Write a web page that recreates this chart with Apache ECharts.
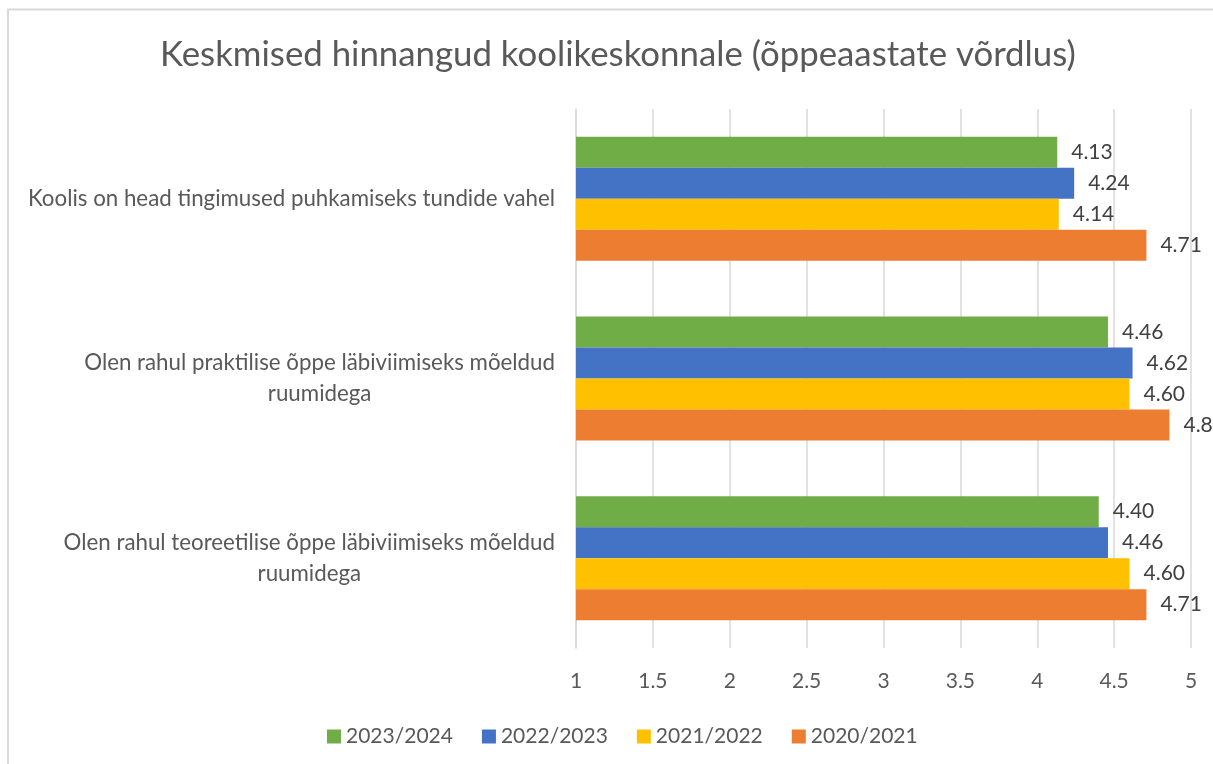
<!DOCTYPE html>
<html>
<head>
<meta charset="utf-8">
<script src="https://cdn.jsdelivr.net/npm/echarts@6/dist/echarts.min.js"></script>
<style>
  html, body { margin: 0; padding: 0; background: #fff; }
  #chart { width: 1213px; height: 764px; }
</style>
</head>
<body>
<div id="chart"></div>
<script>
// categories, top to bottom
const categories = [
  'Koolis on head tingimused puhkamiseks tundide vahel',
  'Olen rahul praktilise õppe läbiviimiseks mõeldud\nruumidega',
  'Olen rahul teoreetilise õppe läbiviimiseks mõeldud\nruumidega'
]
const seriesNames = ['2023/2024', '2022/2023', '2021/2022', '2020/2021']
const values2023 = [4.13, 4.46, 4.40]
const values2022 = [4.24, 4.62, 4.46]
const values2021 = [4.14, 4.60, 4.60]
const values2020 = [4.71, 4.86, 4.71]
const xTicks = [1, 5, 0.5] // min, max, step

const colors = ['#70AD47', '#4472C4', '#FFC000', '#ED7D31']
const font = 'Lato'

const chart = echarts.init(document.getElementById('chart'), null, { renderer: 'canvas' })

function barSeries(name, data) {
  return {
    name: name,
    type: 'bar',
    data: data,
    barGap: 0,
    barCategoryGap: '31%',
    label: {
      show: true,
      position: 'right',
      distance: 14,
      fontFamily: font,
      fontSize: 21,
      color: '#404040',
      formatter: p => p.value.toFixed(2)
    }
  }
}

const option = {
  animation: false,
  color: colors,
  title: {
    text: 'Keskmised hinnangud koolikeskonnale (õppeaastate võrdlus)',
    left: 155,
    top: 32,
    textStyle: { fontFamily: font, fontSize: 34.8, fontWeight: 'normal', color: '#595959' }
  },
  legend: {
    data: seriesNames,
    left: 322,
    top: 721,
    icon: 'rect',
    itemWidth: 14,
    itemHeight: 14,
    itemGap: 29,
    textStyle: { fontFamily: font, fontSize: 21, color: '#595959' }
  },
  grid: { left: 576, right: 22, top: 109, bottom: 116, containLabel: false },
  xAxis: {
    type: 'value',
    min: xTicks[0],
    max: xTicks[1],
    interval: xTicks[2],
    axisLine: { show: false },
    axisTick: { show: false },
    axisLabel: { margin: 23, fontFamily: font, fontSize: 21, color: '#595959' },
    splitLine: { lineStyle: { color: '#d9d9d9', width: 1.5 } }
  },
  yAxis: {
    type: 'category',
    inverse: true,
    data: categories,
    axisLine: { lineStyle: { color: '#d9d9d9', width: 1.5 } },
    axisTick: { show: false },
    axisLabel: {
      margin: 21,
      lineHeight: 31,
      formatter: v => v.split('\n').map(s => '{c|' + s + '}').join('\n'),
      rich: {
        c: { align: 'center', fontFamily: font, fontSize: 22.3, color: '#595959', lineHeight: 31 }
      }
    }
  },
  graphic: [{
    type: 'rect',
    shape: { x: 8, y: 9.5, width: 1260, height: 800 },
    style: { fill: 'none', stroke: '#d9d9d9', lineWidth: 2 },
    silent: true,
    z: -1
  }],
  series: [
    barSeries(seriesNames[0], values2023),
    barSeries(seriesNames[1], values2022),
    barSeries(seriesNames[2], values2021),
    barSeries(seriesNames[3], values2020)
  ]
}

chart.setOption(option)
</script>
</body>
</html>
